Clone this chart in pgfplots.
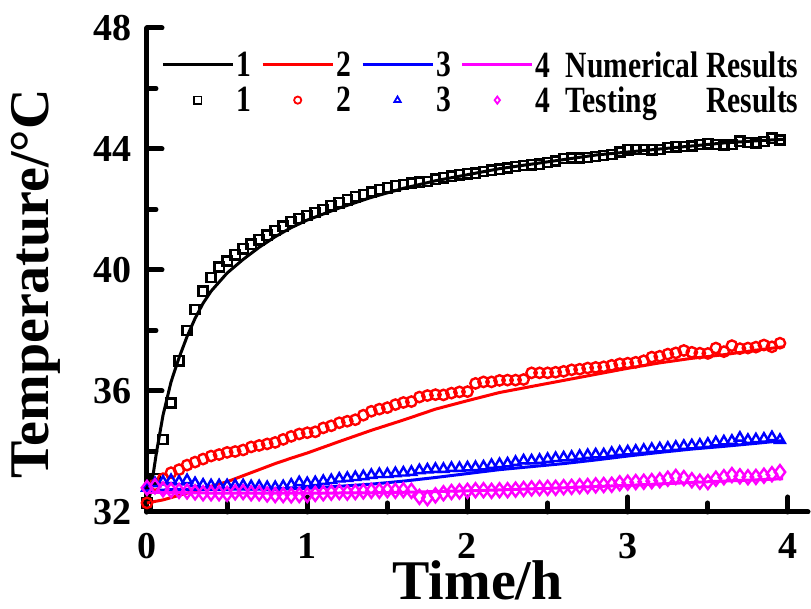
\documentclass[border=0pt]{standalone}
\usepackage{fontspec}
\setmainfont{Liberation Serif}
\newfontfamily\legfont[FakeStretch=0.8]{Liberation Serif}
\usepackage{calc}
\usepackage{pgfplots}
\pgfplotsset{compat=1.18}

\definecolor{cmag}{RGB}{255,0,255}

\pgfplotsset{
  numline/.style={line width=3pt, no marks,
    legend image code/.code={\draw[##1] (0pt,0pt) -- (70pt,0pt);}},
  testmk/.style={only marks, mark options={line width=2.4pt, fill=white},
    legend image code/.code={\path (0pt,0pt) (70pt,0pt);
      \draw[##1, mark size=3.6pt, mark options={line width=1.8pt}] plot coordinates {(35pt,0pt)};}},
}

\begin{document}
\begin{tikzpicture}
\begin{axis}[
  scale only axis,
  width=661pt, height=484pt,
  xmin=0, xmax=4.125, ymin=32, ymax=48,
  axis lines=left,
  axis line style={-, line width=5pt, line cap=round},
  clip=false,
  xtick={0,1,2,3,4}, ytick={32,36,40,44,48},
  minor x tick num=1, minor y tick num=1,
  tick align=inside,
  major tick length=15pt, minor tick length=9pt,
  every tick/.style={black, line width=5pt, line cap=round},
  /pgf/number format/assume math mode=true,
  tick label style={font=\fontsize{38}{40}\selectfont\bfseries},
  xticklabel style={yshift=-18pt},
  yticklabel style={xshift=-12pt},
  xlabel={Time/h}, ylabel={Temperature/\textdegree C},
  label style={font=\fontsize{56}{58}\selectfont\bfseries},
  xlabel style={yshift=5pt, text depth=0pt},
  ylabel style={yshift=26pt, xshift=-14pt},
  legend columns=4,
  legend style={draw=none, fill=none, at={(axis cs:0.07,47.3)}, anchor=north west,
    font=\legfont\bfseries\fontsize{37}{37}\selectfont,
    nodes={inner sep=0pt}, column sep=2pt, row sep=8pt,
    /tikz/every even column/.append style={column sep=10pt}},
]
% numerical results
\addplot[numline, black] coordinates {
(0.00,32.2) (0.02,32.6) (0.06,34.0) (0.10,35.2) (0.15,36.3) (0.20,37.1) (0.25,37.8)
(0.30,38.4) (0.35,38.9) (0.40,39.3) (0.50,39.9) (0.60,40.35) (0.70,40.75) (0.80,41.1)
(0.90,41.4) (1.00,41.65) (1.20,42.05) (1.40,42.4) (1.60,42.7) (1.80,42.95) (2.00,43.15)
(2.20,43.35) (2.40,43.5) (2.60,43.65) (2.80,43.8) (3.00,43.9) (3.20,44.0) (3.40,44.1)
(3.60,44.2) (3.80,44.27) (3.97,44.32)};
\addplot[numline, red] coordinates {
(0.00,32.3) (0.10,32.4) (0.20,32.55) (0.30,32.7) (0.40,32.85) (0.50,33.0) (0.60,33.2)
(0.70,33.4) (0.80,33.6) (0.90,33.78) (1.00,33.95) (1.20,34.33) (1.40,34.7) (1.60,35.04)
(1.80,35.4) (2.00,35.68) (2.20,35.95) (2.40,36.15) (2.60,36.35) (2.80,36.55) (3.00,36.75)
(3.20,36.93) (3.40,37.08) (3.60,37.2) (3.80,37.35) (3.97,37.46)};
\addplot[numline, blue] coordinates {
(0.00,32.7) (0.20,32.75) (0.50,32.75) (1.00,32.78) (1.20,32.85) (1.40,32.92) (1.60,33.02)
(1.80,33.14) (2.00,33.27) (2.20,33.4) (2.40,33.5) (2.60,33.6) (2.80,33.72) (3.00,33.85)
(3.20,33.97) (3.40,34.08) (3.60,34.17) (3.80,34.27) (3.97,34.36)};
\addplot[numline, cmag] coordinates {
(0.00,32.65) (0.50,32.62) (1.00,32.62) (1.50,32.64) (2.00,32.7) (2.50,32.78) (3.00,32.88)
(3.50,33.0) (3.97,33.1)};
% testing results
\addplot[testmk, black, mark=square, mark size=4.6pt] coordinates {
(0.00,32.3) (0.05,33.1) (0.10,34.4) (0.15,35.6) (0.20,37.0) (0.25,38.0) (0.30,38.7)
(0.35,39.3) (0.40,39.75) (0.45,40.1) (0.50,40.3) (0.55,40.5) (0.60,40.7) (0.65,40.85)
(0.70,41.0) (0.75,41.15) (0.80,41.3) (0.85,41.45) (0.90,41.6) (0.95,41.7) (1.00,41.8)
(1.05,41.9) (1.10,42.0) (1.15,42.12) (1.20,42.22) (1.25,42.32) (1.30,42.42) (1.35,42.5)
(1.40,42.58) (1.45,42.66) (1.50,42.72) (1.55,42.78) (1.60,42.82) (1.65,42.87) (1.70,42.9)
(1.75,42.92) (1.80,43.0) (1.85,43.05) (1.90,43.1) (1.95,43.15) (2.00,43.18) (2.05,43.2)
(2.10,43.25) (2.15,43.3) (2.20,43.33) (2.25,43.37) (2.30,43.42) (2.35,43.45) (2.40,43.48)
(2.45,43.5) (2.50,43.55) (2.55,43.6) (2.60,43.68) (2.65,43.7) (2.70,43.7) (2.75,43.72)
(2.80,43.75) (2.85,43.78) (2.90,43.82) (2.95,43.9) (3.00,43.97) (3.05,43.98) (3.10,43.98)
(3.15,43.97) (3.20,43.98) (3.25,44.05) (3.30,44.07) (3.35,44.08) (3.40,44.1) (3.45,44.15)
(3.50,44.17) (3.55,44.15) (3.60,44.13) (3.65,44.15) (3.70,44.26) (3.75,44.22) (3.80,44.2)
(3.85,44.25) (3.90,44.36) (3.95,44.3)};
\addplot[testmk, red, mark=o, mark size=5.2pt] coordinates {
(0.00,32.3) (0.05,32.9) (0.10,33.1) (0.15,33.3) (0.20,33.4) (0.25,33.55) (0.30,33.65)
(0.35,33.75) (0.40,33.85) (0.45,33.9) (0.50,33.97) (0.55,34.0) (0.60,34.05) (0.65,34.15)
(0.70,34.2) (0.75,34.25) (0.80,34.3) (0.85,34.4) (0.90,34.5) (0.95,34.58) (1.00,34.62)
(1.05,34.65) (1.10,34.78) (1.15,34.85) (1.20,34.95) (1.25,35.0) (1.30,35.05) (1.35,35.2)
(1.40,35.33) (1.45,35.4) (1.50,35.45) (1.55,35.55) (1.60,35.62) (1.65,35.65) (1.70,35.8)
(1.75,35.85) (1.80,35.88) (1.85,35.87) (1.90,35.93) (1.95,35.97) (2.00,35.98) (2.05,36.25)
(2.10,36.3) (2.15,36.3) (2.20,36.35) (2.25,36.36) (2.30,36.36) (2.35,36.38) (2.40,36.6)
(2.45,36.6) (2.50,36.6) (2.55,36.62) (2.60,36.65) (2.65,36.7) (2.70,36.72) (2.75,36.76)
(2.80,36.78) (2.85,36.8) (2.90,36.85) (2.95,36.9) (3.00,36.92) (3.05,36.95) (3.10,37.0)
(3.15,37.12) (3.20,37.15) (3.25,37.22) (3.30,37.26) (3.35,37.34) (3.40,37.28) (3.45,37.25)
(3.50,37.24) (3.55,37.42) (3.60,37.3) (3.65,37.5) (3.70,37.4) (3.75,37.42) (3.80,37.45)
(3.85,37.52) (3.90,37.46) (3.95,37.58)};
\addplot[testmk, blue, mark=triangle, mark size=5.6pt] coordinates {
(0.00,32.8) (0.05,32.95) (0.10,33.0) (0.15,33.05) (0.20,33.0) (0.25,33.05) (0.30,32.95)
(0.35,32.9) (0.40,32.88) (0.45,32.88) (0.50,32.88) (0.55,32.88) (0.60,32.88) (0.65,32.85)
(0.70,32.85) (0.75,32.82) (0.80,32.82) (0.85,32.85) (0.90,32.9) (0.95,32.98) (1.00,32.95)
(1.05,32.98) (1.10,33.02) (1.15,33.05) (1.20,33.1) (1.25,33.12) (1.30,33.15) (1.35,33.18)
(1.40,33.22) (1.45,33.25) (1.50,33.25) (1.55,33.28) (1.60,33.3) (1.65,33.32) (1.70,33.38)
(1.75,33.4) (1.80,33.42) (1.85,33.42) (1.90,33.45) (1.95,33.45) (2.00,33.47) (2.05,33.48)
(2.10,33.5) (2.15,33.55) (2.20,33.58) (2.25,33.6) (2.30,33.65) (2.35,33.7) (2.40,33.7)
(2.45,33.72) (2.50,33.75) (2.55,33.78) (2.60,33.8) (2.65,33.82) (2.70,33.85) (2.75,33.88)
(2.80,33.9) (2.85,33.9) (2.90,33.95) (2.95,33.98) (3.00,34.0) (3.05,34.02) (3.10,34.05)
(3.15,34.08) (3.20,34.1) (3.25,34.12) (3.30,34.15) (3.35,34.18) (3.40,34.2) (3.45,34.22)
(3.50,34.25) (3.55,34.3) (3.60,34.33) (3.65,34.35) (3.70,34.45) (3.75,34.38) (3.80,34.4)
(3.85,34.42) (3.90,34.47) (3.95,34.38)};
\addplot[testmk, cmag, mark=diamond, mark size=7pt] coordinates {
(0.00,32.8) (0.05,32.85) (0.10,32.75) (0.15,32.72) (0.20,32.7) (0.25,32.68) (0.30,32.65)
(0.35,32.62) (0.40,32.62) (0.45,32.62) (0.50,32.6) (0.55,32.65) (0.60,32.66) (0.65,32.62)
(0.70,32.62) (0.75,32.58) (0.80,32.56) (0.85,32.56) (0.90,32.55) (0.95,32.56) (1.00,32.56)
(1.05,32.6) (1.10,32.62) (1.15,32.64) (1.20,32.66) (1.25,32.64) (1.30,32.66) (1.35,32.68)
(1.40,32.7) (1.45,32.7) (1.50,32.72) (1.55,32.7) (1.60,32.72) (1.65,32.7) (1.70,32.5)
(1.75,32.46) (1.80,32.55) (1.85,32.62) (1.90,32.66) (1.95,32.68) (2.00,32.7) (2.05,32.72)
(2.10,32.72) (2.15,32.7) (2.20,32.72) (2.25,32.72) (2.30,32.74) (2.35,32.76) (2.40,32.78)
(2.45,32.79) (2.50,32.8) (2.55,32.8) (2.60,32.82) (2.65,32.83) (2.70,32.85) (2.75,32.86)
(2.80,32.88) (2.85,32.89) (2.90,32.9) (2.95,32.95) (3.00,32.97) (3.05,32.99) (3.10,33.0)
(3.15,33.02) (3.20,33.05) (3.25,33.1) (3.30,33.16) (3.35,33.12) (3.40,33.05) (3.45,33.0)
(3.50,32.99) (3.55,33.1) (3.60,33.15) (3.65,33.22) (3.70,33.18) (3.75,33.15) (3.80,33.16)
(3.85,33.2) (3.90,33.25) (3.95,33.32)};
\legend{1,2,3,{\makebox[30pt][l]{4}Numerical Results},
        1,2,3,{\makebox[30pt][l]{4}\makebox[\widthof{Numerical Results}][s]{Testing\hfill Results}}}
\coordinate (sw) at (rel axis cs:0,0);
\end{axis}
\pgfresetboundingbox
\path[use as bounding box] ([shift={(-147pt,-97pt)}]sw) rectangle ([shift={(664pt,512pt)}]sw);
\end{tikzpicture}
\end{document}
